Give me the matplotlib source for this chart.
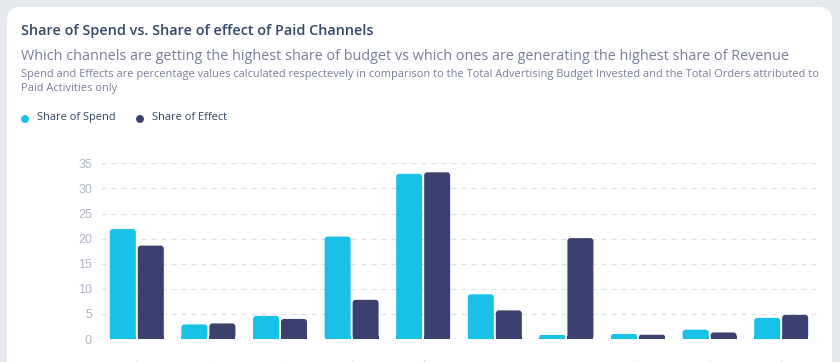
import matplotlib
matplotlib.use('Agg')
import matplotlib.pyplot as plt
from matplotlib.patches import FancyBboxPatch, Rectangle, Ellipse

# ---- data ----
channels = ['Google Ads', 'Bing Ads', 'Pinterest Ads', 'Facebook Ads', 'Google Shopping',
            'Instagram Ads', 'Affiliate Ads', 'TikTok Ads', 'Criteo Ads', 'YouTube Ads']
share_spend = [21.9, 2.9, 4.6, 20.4, 32.9, 8.9, 0.8, 1.0, 1.85, 4.2]
share_effect = [18.6, 3.1, 4.0, 7.8, 33.2, 5.7, 20.1, 0.85, 1.3, 4.8]
y_ticks = [0, 5, 10, 15, 20, 25, 30, 35]

CYAN = '#17c1e8'
NAVY = '#3a416f'
BG = '#e6e9ed'

W, H = 840, 362
fig = plt.figure(figsize=(W / 100, H / 100), dpi=100)
fig.patch.set_facecolor(BG)
plt.rcParams['font.family'] = ['Open Sans', 'DejaVu Sans']


def fx(px):
    return px / W


def fy(py):
    return 1 - py / H


# white card
card = FancyBboxPatch((fx(7), fy(400)), fx(832 - 7), (400 - 7) / H,
                      boxstyle='round,pad=0,rounding_size=0.016',
                      mutation_aspect=W / H,
                      transform=fig.transFigure, facecolor='white',
                      edgecolor='none', zorder=-5)
fig.add_artist(card)

# texts
fig.text(fx(21), fy(31), 'Share of Spend vs. Share of effect of Paid Channels',
         fontsize=10.4, fontweight='semibold', color='#344767', va='center')
fig.text(fx(21), fy(57), 'Which channels are getting the highest share of budget vs which '
         'ones are generating the highest share of Revenue',
         fontsize=10.4, color='#7b809a', va='center')
fig.text(fx(21), fy(75), 'Spend and Effects are percentage values calculated respectevely in '
         'comparison to the Total Advertising Budget Invested and the Total Orders attributed to',
         fontsize=7.9, color='#7b809a', va='center')
fig.text(fx(21), fy(88), 'Paid Activities only', fontsize=7.9, color='#7b809a', va='center')

# legend
for x0, col, lab in [(25, CYAN, 'Share of Spend'), (140, NAVY, 'Share of Effect')]:
    fig.add_artist(Ellipse((fx(x0), fy(119)), 6.5 / W, 6.5 / H, color=col,
                           transform=fig.transFigure))
    fig.text(fx(x0 + 12), fy(118), lab, fontsize=7.9, color='#344767', va='center')

# axes
ax_l, ax_r, ax_top, ax_bot = 101, 817, 163.3, 339
ax = fig.add_axes([fx(ax_l), fy(ax_bot), (ax_r - ax_l) / W, (ax_bot - ax_top) / H])
ax.set_facecolor('none')
ax.set_xlim(0, len(channels))
ax.set_ylim(0, 35)

bw = 0.363
gap = 0.014
xpx = (ax_r - ax_l) / len(channels)       # px per x unit
ypx = (ax_bot - ax_top) / 35              # px per y unit
r_px = 3.0
for i in range(len(channels)):
    c = i + 0.5
    for x0, v, col in [(c - gap - bw, share_spend[i], CYAN), (c + gap, share_effect[i], NAVY)]:
        r = min(r_px, v * ypx / 2)
        p = FancyBboxPatch((x0, 0), bw, v,
                           boxstyle=f'round,pad=0,rounding_size={r / xpx}',
                           mutation_aspect=xpx / ypx,
                           facecolor=col, edgecolor='none', zorder=3)
        ax.add_patch(p)
        # square off the bottom corners
        ax.add_patch(Rectangle((x0, 0), bw, min(v / 2, r / ypx), facecolor=col,
                               edgecolor='none', zorder=3))

ax.set_yticks(y_ticks)
ax.set_yticklabels([str(t) for t in y_ticks], family=['Liberation Sans', 'DejaVu Sans'])
ax.grid(axis='y', color='#dfe2e6', linestyle=(0, (4, 4)), linewidth=0.9, zorder=0)
ax.set_xticks([i + 0.5 for i in range(len(channels))])
ax.set_xticklabels(channels, rotation=45, ha='right', rotation_mode='anchor')
ax.tick_params(axis='y', length=0, pad=6.5, labelsize=9, labelcolor='#b2b7c6')
ax.tick_params(axis='x', length=0, pad=14, labelsize=8.8, labelcolor='#c4c8d3')
for s in ax.spines.values():
    s.set_visible(False)

fig.savefig('out.png', dpi=100, facecolor=BG)
